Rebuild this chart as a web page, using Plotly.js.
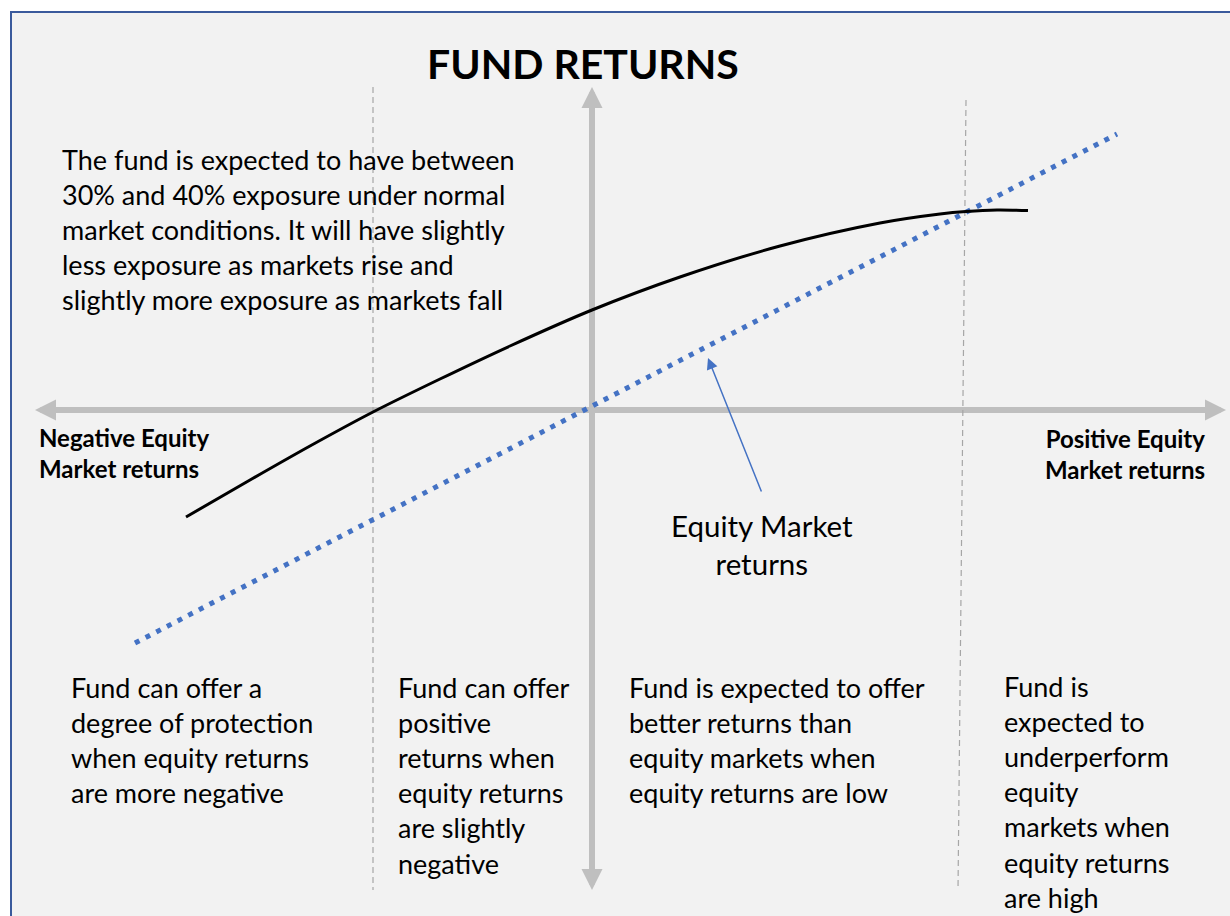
<!DOCTYPE html>
<html>
<head>
<meta charset="utf-8">
<script src="https://cdn.plot.ly/plotly-3.0.1.min.js"></script>
<style>
  html, body { margin: 0; padding: 0; background: #ffffff; }
  #plot { width: 1230px; height: 916px; }
</style>
</head>
<body>
<div id="plot"></div>
<script>
  // equity market return (x) vs fund return (y), origin where the two axes cross
  var marketReturn = [-406, -342, -282, -219, -152, -82, 0, 88, 188, 288, 348, 374, 405, 436];
  var fundReturn = [-107, -70, -36, -2, 31, 64, 100, 133, 164, 187, 196, 198.5, 200, 199.5];

  // the equity market itself (fund return = market return line)
  var equityX = [-457, 525];
  var equityY = [-233, 276];

  // dashed dividers between the four regimes
  var dividerX = [[-219, -219], [374, 366]];
  var dividerY = [[323, -480], [310, -480]];

  var titleText = '<b>FUND RETURNS</b>';
  var introText = 'The fund is expected to have between<br>30% and 40% exposure under normal<br>market conditions. It will have slightly<br>less exposure as markets rise and<br>slightly more exposure as markets fall';
  var negLabel = '<b>Negative Equity<br>Market returns</b>';
  var posLabel = '<b>Positive Equity<br>Market returns</b>';
  var marketLabel = 'Equity Market<br>returns';
  var regimeText = [
    'Fund can offer a<br>degree of protection<br>when equity returns<br>are more negative',
    'Fund can offer<br>positive<br>returns when<br>equity returns<br>are slightly<br>negative',
    'Fund is expected to offer<br>better returns than<br>equity markets when<br>equity returns are low',
    'Fund is<br>expected to<br>underperform<br>equity<br>markets when<br>equity returns<br>are high'
  ];
  var regimeX = [-523, -196, 35, 410];
  var regimeY = [-330, -365, -330, -382];

  var font = 'Lato, "Open Sans", sans-serif';
  var grey = '#BFBFBF';
  var blue = '#4472C4';

  var traces = [
    {
      x: equityX, y: equityY,
      type: 'scatter', mode: 'lines',
      line: {color: blue, width: 5, dash: '5px,7px'},
      hoverinfo: 'none'
    },
    {
      x: marketReturn, y: fundReturn,
      type: 'scatter', mode: 'lines',
      line: {color: '#000000', width: 3, shape: 'spline', smoothing: 0.8},
      hoverinfo: 'none'
    }
  ];

  var shapes = [
    // axis shafts
    {type: 'line', layer: 'below', x0: -545, x1: 622, y0: 0, y1: 0, line: {color: grey, width: 6}},
    {type: 'line', layer: 'below', x0: 0, x1: 0, y0: 311, y1: -468, line: {color: grey, width: 6}},
    // frame
    {type: 'rect', xref: 'paper', yref: 'paper', x0: 0, x1: 1.02, y0: -0.02, y1: 1,
     line: {color: '#3A5A9C', width: 2}}
  ];
  dividerX.forEach(function (dx, i) {
    shapes.push({type: 'line', layer: 'below', x0: dx[0], x1: dx[1], y0: dividerY[i][0], y1: dividerY[i][1],
      line: {color: '#A6A6A6', width: 1.2, dash: '6px,4px'}});
  });

  function head(x, y, ax, ay) {
    return {x: x, y: y, ax: ax, ay: ay, xref: 'x', yref: 'y', axref: 'x', ayref: 'y',
      text: '', showarrow: true, arrowhead: 2, arrowsize: 0.7, arrowwidth: 6,
      arrowcolor: grey, standoff: 0};
  }

  var annotations = [
    head(-557, 0, -530, 0),
    head(634, 0, 607, 0),
    head(0, 323, 0, 296),
    head(0, -480, 0, -453),
    {x: 116, y: 52, ax: 170, ay: -83, xref: 'x', yref: 'y', axref: 'x', ayref: 'y',
     text: '', showarrow: true, arrowhead: 2, arrowsize: 1.5, arrowwidth: 1.5,
     arrowcolor: blue, standoff: 0},
    {x: -9, y: 347, xref: 'x', yref: 'y', text: titleText, showarrow: false,
     xanchor: 'center', yanchor: 'middle', font: {family: font, size: 41, color: '#000'}},
    {x: -532, y: 181, xref: 'x', yref: 'y', text: introText, showarrow: false,
     xanchor: 'left', yanchor: 'middle', align: 'left', font: {family: font, size: 27, color: '#000'}},
    {x: -555, y: -43, xref: 'x', yref: 'y', text: negLabel, showarrow: false,
     xanchor: 'left', yanchor: 'middle', align: 'left', font: {family: font, size: 24, color: '#000'}},
    {x: 615, y: -44, xref: 'x', yref: 'y', text: posLabel, showarrow: false,
     xanchor: 'right', yanchor: 'middle', align: 'right', font: {family: font, size: 24, color: '#000'}},
    {x: 170, y: -134, xref: 'x', yref: 'y', text: marketLabel, showarrow: false,
     xanchor: 'center', yanchor: 'middle', align: 'center', font: {family: font, size: 29.5, color: '#000'}}
  ];
  regimeText.forEach(function (t, i) {
    annotations.push({x: regimeX[i], y: regimeY[i], xref: 'x', yref: 'y', text: t, showarrow: false,
      xanchor: 'left', yanchor: 'middle', align: 'left', font: {family: font, size: 27, color: '#000'}});
  });

  var layout = {
    width: 1230, height: 916,
    margin: {l: 11, r: 0, t: 12, b: 0},
    paper_bgcolor: '#ffffff',
    plot_bgcolor: '#F2F2F2',
    showlegend: false,
    xaxis: {range: [-581, 638], visible: false, fixedrange: true},
    yaxis: {range: [-506, 398], visible: false, fixedrange: true},
    shapes: shapes,
    annotations: annotations
  };

  Plotly.newPlot('plot', traces, layout, {displayModeBar: false, staticPlot: true});
</script>
</body>
</html>
